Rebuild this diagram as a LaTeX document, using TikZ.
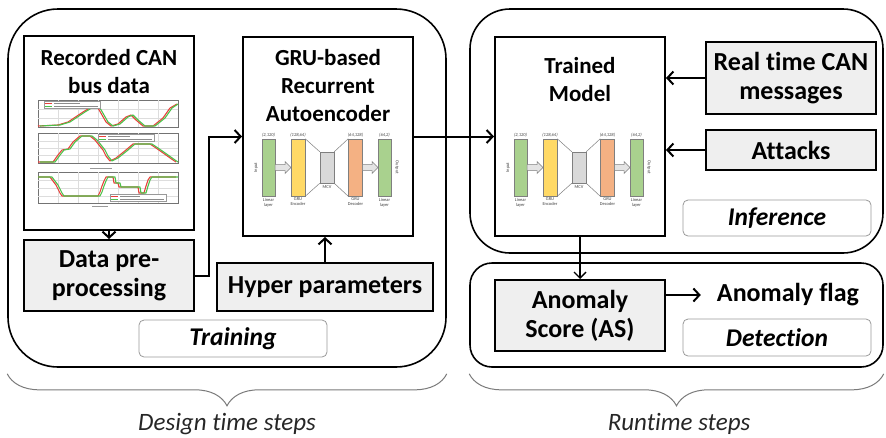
\documentclass[tikz,border=0pt]{standalone}
\usepackage{fontspec}
\setmainfont[Ligatures=NoCommon]{Carlito}
\usetikzlibrary{arrows.meta,decorations.pathreplacing}

\definecolor{boxgray}{HTML}{EFEFEF}
\definecolor{taggray}{HTML}{9A9A9A}
\definecolor{lingreen}{HTML}{A9D18E}
\definecolor{encyellow}{HTML}{FFD966}
\definecolor{mcvgray}{HTML}{D9D9D9}
\definecolor{decorange}{HTML}{F4B183}
\definecolor{bardraw}{HTML}{7F7F7F}
\definecolor{chartgrid}{HTML}{DDDDDD}
\definecolor{curvered}{HTML}{E8413A}
\definecolor{curvegreen}{HTML}{4CC24A}
\definecolor{bracegray}{HTML}{7A7A7A}

\newcommand\ttlfont{\bfseries\fontsize{23}{28}\selectfont}
\newcommand\bxfont{\bfseries\fontsize{26}{29}\selectfont}
\newcommand\tgfont{\bfseries\itshape\fontsize{25.5}{30}\selectfont}
\newcommand\brfont{\itshape\fontsize{25}{30}\selectfont}
\newcommand\mnfont{\fontsize{4.5}{5}\selectfont}

% small GRU autoencoder sketch; #1 = left edge of the host box, #2 = name prefix
\newcommand\minigru[2]{%
\begin{scope}[shift={(#1,0)}]
  \node[bar, fill=lingreen,   minimum width=13, minimum height=57] (#2in)  at (25.5,167.5) {};
  \node[bar, fill=encyellow,  minimum width=14, minimum height=57] (#2enc) at (55,167.5) {};
  \node[bar, fill=mcvgray,    minimum width=14, minimum height=31] (#2mcv) at (84,167.5) {};
  \node[bar, fill=decorange,  minimum width=14, minimum height=57] (#2dec) at (112.5,167.5) {};
  \node[bar, fill=lingreen,   minimum width=13, minimum height=57] (#2out) at (141.5,167.5) {};
  \draw[thinline] (#2enc.north east) -- (#2mcv.north west)
                  (#2enc.south east) -- (#2mcv.south west)
                  (#2mcv.north east) -- (#2dec.north west)
                  (#2mcv.south east) -- (#2dec.south west);
  \draw[blockarrow] (32,164.5) -- (42,164.5) -- (42,161.5) -- (48,167.5) -- (42,173.5) -- (42,170.5) -- (32,170.5) -- cycle;
  \draw[blockarrow] (119.5,164.5) -- (129,164.5) -- (129,161.5) -- (135,167.5) -- (129,173.5) -- (129,170.5) -- (119.5,170.5) -- cycle;
  \node[mtxt, font=\mnfont\itshape, above=1pt] (#2din)  at (#2in.north)  {(2,120)};
  \node[mtxt, font=\mnfont\itshape, above=1pt] (#2denc) at (#2enc.north) {(128,64)};
  \node[mtxt, font=\mnfont\itshape, above=1pt] (#2ddec) at (#2dec.north) {(64,128)};
  \node[mtxt, font=\mnfont\itshape, above=1pt] (#2dout) at (#2out.north) {(64,2)};
  \node[mtxt, below=1pt] (#2lin)  at (#2in.south)  {Linear\\layer};
  \node[mtxt, below=1pt] (#2lenc) at (#2enc.south) {GRU\\Encoder};
  \node[mtxt, below=2pt] (#2lmcv) at (#2mcv.south) {MCV};
  \node[mtxt, below=1pt] (#2ldec) at (#2dec.south) {GRU\\Decoder};
  \node[mtxt, below=1pt] (#2lout) at (#2out.south) {Linear\\layer};
  \node[mtxt, rotate=90]  (#2inp) at (13,167.5)  {Input};
  \node[mtxt, rotate=-90] (#2outp) at (154,167.5) {Output};
\end{scope}}

\begin{document}
\begin{tikzpicture}[x=1pt,y=-1pt,
  container/.style={draw=black, line width=1.6pt, rounded corners=#1, inner sep=0pt},
  box/.style={draw=black, line width=2pt, inner sep=0pt, align=center, font=\bxfont},
  graybox/.style={box, fill=boxgray},
  tag/.style={draw=taggray, line width=0.8pt, rounded corners=5pt, fill=white, font=\tgfont, inner sep=0pt},
  title/.style={align=center, font=\ttlfont, inner sep=0pt},
  arr/.style={line width=2pt, -{Straight Barb[length=6pt,width=13pt]}},
  thinarr/.style={line width=1.4pt, -{Straight Barb[length=6pt,width=12pt]}},
  bar/.style={draw=bardraw, line width=0.5pt, inner sep=0pt},
  thinline/.style={draw=bardraw, line width=0.5pt},
  blockarrow/.style={draw=bardraw, fill=mcvgray!70, line width=0.5pt},
  mtxt/.style={font=\mnfont, text=black!75, align=center, inner sep=0.5pt},
  bracestyle/.style={draw=bracegray, line width=1pt, decorate, decoration={brace, mirror, amplitude=32pt}},
  chartframe/.style={draw=black!55, line width=0.4pt, fill=white},
  gridline/.style={draw=chartgrid, line width=0.3pt},
  redc/.style={draw=curvered, line width=1.1pt, line join=round},
  greenc/.style={draw=curvegreen, line width=1.1pt, line join=round},
  legendtext/.style={draw=black!45, line width=0.5pt},
]
\useasboundingbox (0,0) rectangle (886,437);

% ---------- containers ----------
\node[container=50pt, minimum width=438, minimum height=358] (design) at (227,188) {};
\node[container=40pt, minimum width=413, minimum height=244] (infer)  at (676.5,131) {};
\node[container=22pt, minimum width=413, minimum height=104] (detect) at (676.5,315) {};

% ---------- design time ----------
\node[box, fill=white, minimum width=170, minimum height=194] (rec) at (109,133) {};
\node[title] (rectitle) at (109,72) {Recorded CAN\\bus data};

% three recorded signal charts
\begin{scope}
  % chart 1
  \draw[chartframe] (38,100) rectangle (178,127);
  \foreach \gx in {58,78,98,118,138,158} \draw[gridline] (\gx,100) -- (\gx,127);
  \foreach \gy in {109,118} \draw[gridline] (38,\gy) -- (178,\gy);
  \draw[redc] (38,126) -- (58,125) -- (68,122) -- (83,112) -- (93,106) -- (98,108) -- (106,122) -- (111,126) -- (118,124) -- (126,117) -- (131,115) -- (136,120) -- (143,126) -- (153,126) -- (163,118) -- (170,108) -- (177,104);
  \draw[greenc] (40,126) -- (60,125) -- (70,122) -- (85,112) -- (95,106) -- (100,108) -- (108,122) -- (113,126) -- (120,124) -- (128,117) -- (133,115) -- (138,120) -- (145,126) -- (155,126) -- (165,118) -- (172,108) -- (178,104);
  \draw[fill=white, draw=black!40, line width=0.3pt] (44,101) rectangle (100,108.5);
  \draw[draw=curvered, line width=1pt] (45,103) -- (52,103);
  \draw[draw=curvegreen, line width=1pt] (45,106.5) -- (52,106.5);
  \draw[legendtext] (54,103) -- (80,103) (54,106.5) -- (98,106.5);
  % chart 2
  \draw[chartframe] (38,133) rectangle (178,163);
  \foreach \gx in {58,78,98,118,138,158} \draw[gridline] (\gx,133) -- (\gx,163);
  \foreach \gy in {141,148,155} \draw[gridline] (38,\gy) -- (178,\gy);
  \draw[redc] (38,162) -- (53,162) -- (58,155) -- (62,150) -- (68,149) -- (73,142) -- (80,136) -- (90,136) -- (95,140) -- (103,150) -- (106,156) -- (110,161) -- (116,158) -- (126,150) -- (133,144) -- (150,144) -- (156,148) -- (166,155) -- (173,160) -- (176,162);
  \draw[greenc] (40,162) -- (55,162) -- (60,155) -- (64,150) -- (70,149) -- (75,142) -- (82,136) -- (92,136) -- (97,140) -- (105,150) -- (108,156) -- (112,161) -- (118,158) -- (128,150) -- (135,144) -- (152,144) -- (158,148) -- (168,155) -- (175,160) -- (178,162);
  \draw[fill=white, draw=black!40, line width=0.3pt] (98,134) rectangle (154,141.5);
  \draw[draw=curvered, line width=1pt] (99,136) -- (106,136);
  \draw[draw=curvegreen, line width=1pt] (99,139.5) -- (106,139.5);
  \draw[legendtext] (108,136) -- (130,136) (108,139.5) -- (152,139.5);
  % chart 3
  \draw[draw=black!40, line width=0.5pt] (90,168.5) -- (112,168.5);
  \draw[chartframe] (38,172) rectangle (178,203);
  \foreach \gx in {58,78,98,118,138,158} \draw[gridline] (\gx,172) -- (\gx,203);
  \foreach \gy in {180,188,196} \draw[gridline] (38,\gy) -- (178,\gy);
  \draw[redc] (38,177) -- (50,177) -- (53,181) -- (56,185) -- (58,189) -- (60,193) -- (62,196) -- (98,196) -- (100,192) -- (102,186) -- (104,181) -- (106,177) -- (113,177) -- (114,183) -- (118,183) -- (119,187) -- (138,187) -- (139,193) -- (144,193) -- (146,186) -- (148,180) -- (150,177) -- (176,177);
  \draw[greenc] (38,177) -- (52,177) -- (55,181) -- (58,185) -- (60,189) -- (62,193) -- (64,196) -- (100,196) -- (102,192) -- (104,186) -- (106,181) -- (108,177) -- (115,177) -- (116,183) -- (120,183) -- (121,187) -- (140,187) -- (141,193) -- (146,193) -- (148,186) -- (150,180) -- (152,177) -- (178,177);
  \draw[fill=white, draw=black!40, line width=0.3pt] (110,194) rectangle (166,201.5);
  \draw[draw=curvered, line width=1pt] (111,196) -- (118,196);
  \draw[draw=curvegreen, line width=1pt] (111,199.5) -- (118,199.5);
  \draw[legendtext] (120,196) -- (140,196) (120,199.5) -- (164,199.5);
  \draw[draw=black!40, line width=0.5pt] (92,206.5) -- (108,206.5);
\end{scope}

\node[graybox, minimum width=170, minimum height=71] (dpp) at (109,275.5) {Data pre-\\processing};

\node[box, fill=white, minimum width=170, minimum height=199] (gru) at (328,136.5) {};
\node[title] (grutitle) at (328,86) {GRU-based\\Recurrent\\Autoencoder};
\minigru{243}{g}

\node[graybox, minimum width=216, minimum height=48] (hyper) at (325,287) {Hyper parameters};
\node[tag, minimum width=188, minimum height=37] (training) at (233,338.5) {Training};

% ---------- runtime ----------
\node[box, fill=white, minimum width=170, minimum height=199] (model) at (580,136.5) {};
\node[title] (modeltitle) at (580,80) {Trained\\Model};
\minigru{495}{m}

\node[graybox, minimum width=170, minimum height=72] (rtcan) at (791,78) {Real time CAN\\messages};
\node[graybox, minimum width=170, minimum height=40] (attacks) at (791,150) {Attacks};
\node[tag, minimum width=188, minimum height=36] (inference) at (777,218) {Inference};

\node[graybox, minimum width=170, minimum height=71] (ascore) at (580,315.5) {Anomaly\\Score (AS)};
\node[font=\bxfont, inner sep=0pt] (flag) at (788,295) {Anomaly flag};
\node[tag, minimum width=188, minimum height=37] (detection) at (777,337.5) {Detection};

% ---------- connectors ----------
\draw[arr] (rec.south) -- (dpp.north);
\draw[arr] (dpp.east) -- ++(14,0) |- (gru.west);
\draw[arr] (hyper.north) -- (hyper.north |- gru.south);
\draw[arr] (gru.east) -- (model.west);
\draw[arr] (rtcan.west) -- (rtcan.west -| model.east);
\draw[arr] (attacks.west) -- (attacks.west -| model.east);
\draw[thinarr] (model.south) -- (ascore.north);
\draw[arr, shorten >=16pt] (ascore.east |- flag.west) -- (flag.west);

% ---------- phase braces ----------
\draw[bracestyle] ([yshift=-6pt]design.south west) -- ([yshift=-6pt]design.south east);
\draw[bracestyle] ([yshift=-6pt]infer.south west |- detect.south) -- ([yshift=-6pt]detect.south east);
\node[font=\brfont, text=black!85, anchor=base, inner sep=0pt] (designlbl) at (227,430) {Design time steps};
\node[font=\brfont, text=black!85, anchor=base, inner sep=0pt] (runlbl) at (679,430) {Runtime steps};
\end{tikzpicture}
\end{document}
